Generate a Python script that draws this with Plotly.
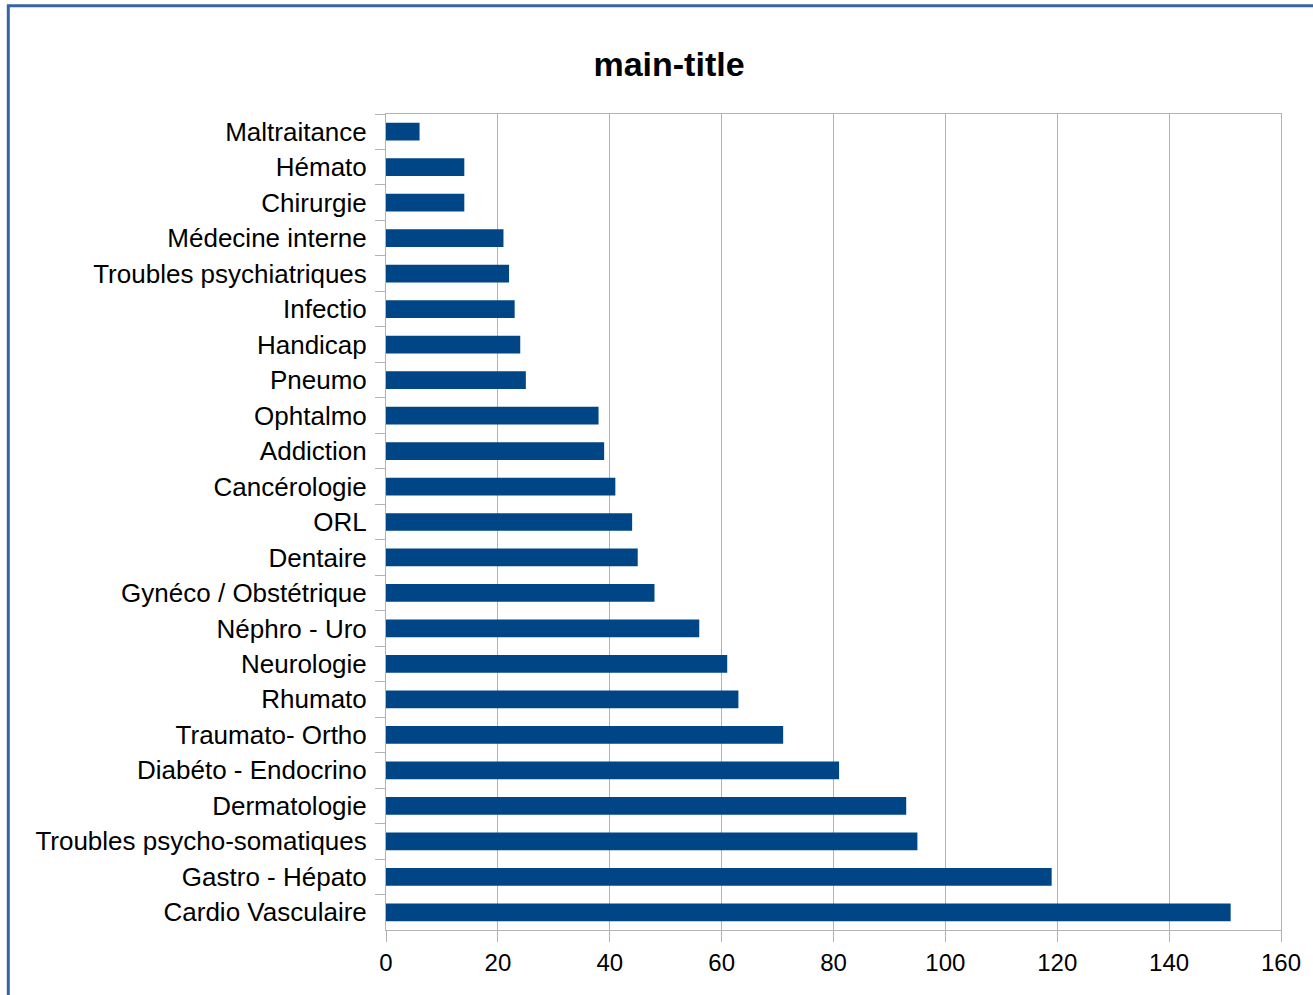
import plotly.graph_objects as go

# Specialties, listed top to bottom, with their counts
categories = [
    "Maltraitance", "Hémato", "Chirurgie", "Médecine interne",
    "Troubles psychiatriques", "Infectio", "Handicap", "Pneumo",
    "Ophtalmo", "Addiction", "Cancérologie", "ORL", "Dentaire",
    "Gynéco / Obstétrique", "Néphro - Uro", "Neurologie", "Rhumato",
    "Traumato- Ortho", "Diabéto - Endocrino", "Dermatologie",
    "Troubles psycho-somatiques", "Gastro - Hépato", "Cardio Vasculaire",
]
values = [6, 14, 14, 21, 22, 23, 24, 25, 38, 39, 41, 44, 45, 48,
          56, 61, 63, 71, 81, 93, 95, 119, 151]
x_ticks = [0, 20, 40, 60, 80, 100, 120, 140, 160]

W, H = 1313, 995
L, R, T, B = 386, 32, 114, 65
plot_w = W - L - R
plot_h = H - T - B

BAR = "#004586"
GRID = "#b3b3b3"
FONT = "Liberation Sans, Arial, sans-serif"

fig = go.Figure(
    go.Bar(
        x=values,
        y=categories,
        orientation="h",
        marker=dict(color=BAR, line=dict(width=0)),
    )
)


def px_x(p):
    return (p - L) / plot_w


def px_y(p):
    return (H - B - p) / plot_h


fig.update_layout(
    width=W,
    height=H,
    margin=dict(l=L, r=R, t=T, b=B, pad=0),
    paper_bgcolor="white",
    plot_bgcolor="white",
    bargap=0.5,
    showlegend=False,
    font=dict(family=FONT, color="black"),
    title=dict(
        text="<b>main-title</b>",
        x=669 / W,
        xanchor="center",
        y=1 - 64 / H,
        yanchor="middle",
        font=dict(size=34, family=FONT, color="black"),
    ),
    xaxis=dict(
        range=[0, 160],
        tickvals=x_ticks,
        ticktext=[str(v) for v in x_ticks],
        showgrid=True,
        gridcolor=GRID,
        gridwidth=1,
        showline=True,
        linecolor=GRID,
        linewidth=1,
        mirror=True,
        ticks="outside",
        ticklen=11,
        tickcolor=GRID,
        tickfont=dict(size=24, family=FONT, color="black"),
        zeroline=False,
    ),
    yaxis=dict(
        type="category",
        autorange="reversed",
        showgrid=False,
        showline=True,
        linecolor=GRID,
        linewidth=1,
        mirror=True,
        ticks="outside",
        tickson="boundaries",
        ticklen=10,
        tickcolor=GRID,
        ticklabelstandoff=13,
        tickfont=dict(size=26, family=FONT, color="black"),
    ),
    shapes=[
        dict(
            type="rect",
            xref="paper",
            yref="paper",
            x0=px_x(8.3),
            x1=px_x(W + 20),
            y0=px_y(5.8),
            y1=px_y(H + 20),
            line=dict(color="#3465a4", width=3),
            fillcolor="rgba(0,0,0,0)",
            layer="above",
        )
    ],
)

fig.write_html("out.html")
